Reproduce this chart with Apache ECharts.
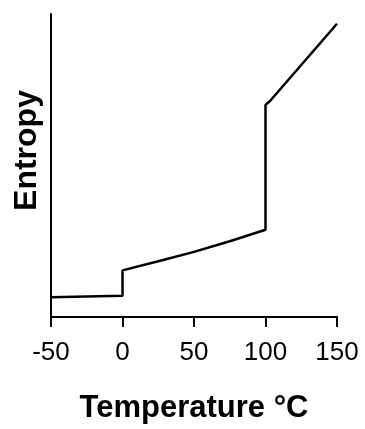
<!DOCTYPE html>
<html>
<head>
<meta charset="utf-8">
<script src="https://cdn.jsdelivr.net/npm/echarts@6/dist/echarts.min.js"></script>
<style>html,body{margin:0;padding:0;background:#fff}#c{width:365px;height:429px}</style>
</head>
<body>
<div id="c"></div>
<script>
const temperature = [-50, 0, 0, 25, 50, 75, 100, 100, 103, 150];
const entropy = [6.5, 7.0, 15.4, 18.4, 21.5, 25.0, 28.8, 70.0, 71.2, 96.8];
const xTicks = [-50, 0, 50, 100, 150];
const xTitle = 'Temperature °C';
const yTitle = 'Entropy';

const chart = echarts.init(document.getElementById('c'));
chart.setOption({
  animation: false,
  grid: {left: 51, right: 28, top: 14, bottom: 102},
  xAxis: {
    type: 'value', min: -50, max: 150, interval: 50,
    name: xTitle, nameLocation: 'middle', nameGap: 76,
    nameTextStyle: {fontFamily: 'Liberation Sans', fontWeight: 'bold', fontSize: 31, color: '#000'},
    axisLine: {onZero: false, lineStyle: {color: '#000', width: 2}},
    axisTick: {show: true, length: 10, lineStyle: {color: '#000', width: 2}},
    axisLabel: {fontFamily: 'Liberation Sans', fontSize: 26, color: '#000', margin: 23,
      formatter: v => xTicks.includes(v) ? String(v) : ''},
    splitLine: {show: false}
  },
  yAxis: {
    type: 'value', min: 0, max: 100,
    name: yTitle, nameLocation: 'middle', nameGap: 8, nameRotate: 90,
    nameTextStyle: {fontFamily: 'Liberation Sans', fontWeight: 'bold', fontSize: 32, color: '#000', padding: [0, 0, 0, 30]},
    axisLine: {show: true, onZero: false, lineStyle: {color: '#000', width: 2}},
    axisTick: {show: false},
    axisLabel: {show: false},
    splitLine: {show: false}
  },
  series: [{
    type: 'line',
    data: temperature.map((t, i) => [t, entropy[i]]),
    symbol: 'none',
    lineStyle: {color: '#000', width: 2.5},
    clip: false
  }]
});
</script>
</body>
</html>
